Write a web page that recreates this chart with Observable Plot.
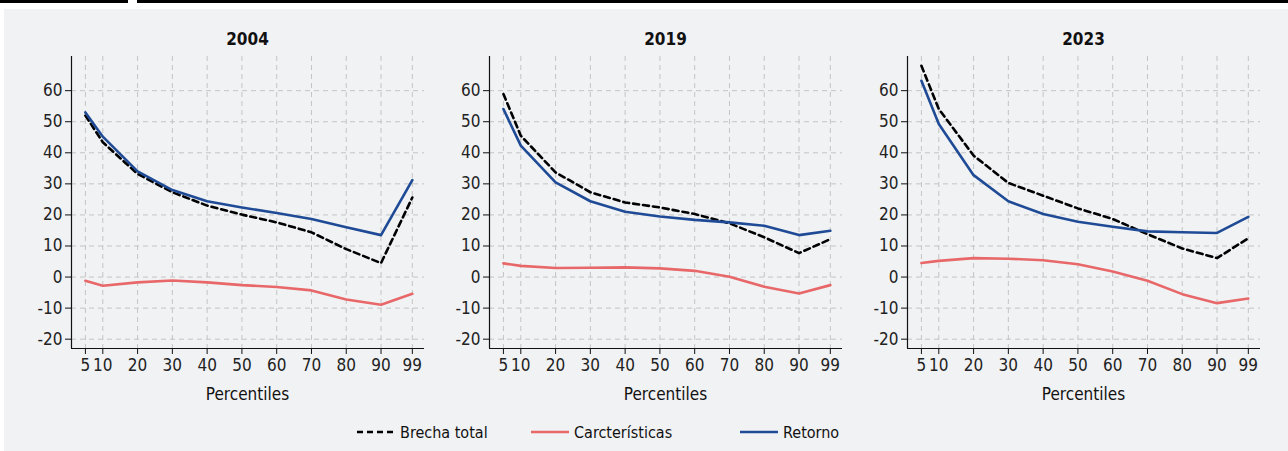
<!DOCTYPE html>
<html>
<head>
<meta charset="utf-8">
<script src="https://cdn.jsdelivr.net/npm/d3@7"></script>
<script src="https://cdn.jsdelivr.net/npm/@observablehq/plot@0.6"></script>
<style>
  html, body { margin: 0; padding: 0; background: #ffffff; }
  #root { position: relative; width: 1288px; height: 451px; overflow: hidden;
          font-family: "DejaVu Sans Condensed", "DejaVu Sans", sans-serif; font-stretch: condensed; color: #111; }
  #topbar1 { position: absolute; left: 0; top: 0; width: 128px; height: 3px; background: #000; }
  #topbar2 { position: absolute; left: 137px; top: 0; width: 1151px; height: 3px; background: #000; }
  #bg { position: absolute; left: 4px; top: 9px; right: 0; bottom: 0; background: #f1f2f4; }
  .panel { position: absolute; top: 0; }
  .title { position: absolute; font-weight: bold; font-size: 17px; text-align: center; }
  .xlabel { position: absolute; font-size: 17px; text-align: center; }
  #legend { position: absolute; top: 421px; left: 0; width: 1288px; height: 22px; font-size: 16px; }
  .lg { position: absolute; top: 0; display: flex; align-items: center; height: 22px; }
  .lg svg { margin-right: 5px; }
</style>
</head>
<body>
<div id="root">
  <div id="topbar1"></div><div id="topbar2"></div>
  <div id="bg"></div>
</div>
<script>
const percentiles = [5, 10, 20, 30, 40, 50, 60, 70, 80, 90, 99];
const years = ["2004", "2019", "2023"];

const brecha2004 = [52.0, 43.4, 33.2, 27.3, 23.0, 20.1, 17.6, 14.4, 9.0, 4.5, 25.6];
const caract2004 = [-1.2, -2.8, -1.7, -1.1, -1.7, -2.6, -3.2, -4.3, -7.2, -8.9, -5.4];
const retorno2004 = [53.0, 45.2, 34.0, 28.0, 24.4, 22.4, 20.6, 18.7, 16.0, 13.5, 31.2];

const brecha2019 = [58.9, 45.5, 33.7, 27.3, 24.0, 22.4, 20.3, 17.3, 12.8, 7.7, 12.2];
const caract2019 = [4.4, 3.6, 2.9, 3.0, 3.1, 2.8, 2.0, 0.1, -3.1, -5.3, -2.6];
const retorno2019 = [54.1, 42.3, 30.5, 24.4, 21.0, 19.5, 18.4, 17.6, 16.5, 13.5, 14.9];

const brecha2023 = [68.0, 54.1, 39.1, 30.3, 26.2, 22.1, 18.7, 13.8, 9.2, 6.1, 12.5];
const caract2023 = [4.5, 5.2, 6.1, 5.9, 5.4, 4.1, 1.8, -1.2, -5.5, -8.4, -6.9];
const retorno2023 = [63.2, 49.3, 32.8, 24.4, 20.3, 17.8, 16.2, 14.7, 14.4, 14.2, 19.4];

const yTicks = [-20, -10, 0, 10, 20, 30, 40, 50, 60];
const xTicks = percentiles;
const seriesNames = ["Brecha total", "Carcterísticas", "Retorno"];
const seriesColors = ["#000000", "#e8686a", "#1f4b96"];
const seriesDash = ["6,4", null, null];

const xDomain = [1, 102.5];
const yDomain = [-23, 71];

const panelData = {
  "2004": [brecha2004, caract2004, retorno2004],
  "2019": [brecha2019, caract2019, retorno2019],
  "2023": [brecha2023, caract2023, retorno2023]
};

const frameLefts = [71, 489, 907];
const mL = 44, mR = 4, mT = 56, mB = 32;
const plotW = 353, plotH = 292;
const root = document.getElementById("root");
const fontFam = '"DejaVu Sans Condensed", "DejaVu Sans", sans-serif';

years.forEach((yr, i) => {
  const rows = [];
  panelData[yr].forEach((vals, s) => {
    vals.forEach((v, k) => rows.push({p: percentiles[k], v, s: seriesNames[s]}));
  });
  const gridStyle = {stroke: "#c4c4c4", strokeOpacity: 1, strokeDasharray: "5,4", strokeWidth: 1};
  const marks = [
    Plot.gridX(xTicks, gridStyle),
    Plot.gridY(yTicks, gridStyle),
    Plot.axisY(yTicks, {tickSize: 6, tickPadding: 3, fontSize: 17, fill: "#222", stroke: "#111", label: null, tickFormat: d => String(d)}),
    Plot.axisX(xTicks, {tickSize: 6, tickPadding: 4, fontSize: 17, fill: "#222", stroke: "#111", label: null, tickFormat: d => String(d)}),
    Plot.ruleX([xDomain[0]], {stroke: "#111", strokeWidth: 1.2}),
    Plot.ruleY([yDomain[0]], {stroke: "#111", strokeWidth: 1.2})
  ];
  seriesNames.forEach((name, s) => {
    marks.push(Plot.line(rows.filter(d => d.s === name), {
      x: "p", y: "v", stroke: seriesColors[s], strokeWidth: 2.6,
      strokeDasharray: seriesDash[s] || undefined, curve: "linear"
    }));
  });
  const chart = Plot.plot({
    width: mL + plotW + mR,
    height: mT + plotH + mB,
    marginLeft: mL, marginRight: mR, marginTop: mT, marginBottom: mB,
    x: {domain: xDomain, axis: null},
    y: {domain: yDomain, axis: null},
    style: {background: "transparent", fontFamily: fontFam, fontSize: "17px", overflow: "visible"},
    marks
  });
  const wrap = document.createElement("div");
  wrap.className = "panel";
  wrap.style.left = (frameLefts[i] - mL) + "px";
  wrap.appendChild(chart);
  root.appendChild(wrap);

  const t = document.createElement("div");
  t.className = "title";
  t.textContent = yr;
  t.style.left = frameLefts[i] + "px";
  t.style.width = plotW + "px";
  t.style.top = "29px";
  root.appendChild(t);

  const xl = document.createElement("div");
  xl.className = "xlabel";
  xl.textContent = "Percentiles";
  xl.style.left = frameLefts[i] + "px";
  xl.style.width = plotW + "px";
  xl.style.top = "384px";
  root.appendChild(xl);
});

// legend
const legend = document.createElement("div");
legend.id = "legend";
const legendLefts = [357, 531, 740];
seriesNames.forEach((name, s) => {
  const item = document.createElement("div");
  item.className = "lg";
  item.style.left = legendLefts[s] + "px";
  const ns = "http://www.w3.org/2000/svg";
  const sv = document.createElementNS(ns, "svg");
  sv.setAttribute("width", "38");
  sv.setAttribute("height", "10");
  const ln = document.createElementNS(ns, "line");
  ln.setAttribute("x1", "0"); ln.setAttribute("x2", "38");
  ln.setAttribute("y1", "5"); ln.setAttribute("y2", "5");
  ln.setAttribute("stroke", seriesColors[s]);
  ln.setAttribute("stroke-width", "2.6");
  if (seriesDash[s]) ln.setAttribute("stroke-dasharray", "6,4");
  sv.appendChild(ln);
  item.appendChild(sv);
  const tx = document.createElement("span");
  tx.textContent = name;
  item.appendChild(tx);
  legend.appendChild(item);
});
root.appendChild(legend);
</script>
</body>
</html>
